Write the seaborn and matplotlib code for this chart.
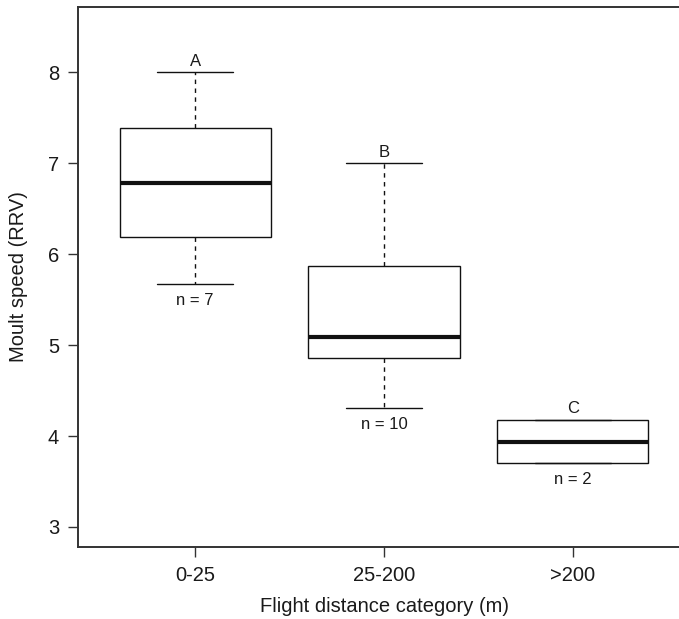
"""Moult speed by flight distance category (R-style boxplot)."""
import matplotlib

matplotlib.use("Agg")
import matplotlib.pyplot as plt  # noqa: E402
import numpy as np  # noqa: E402
import pandas as pd  # noqa: E402
import seaborn as sns  # noqa: E402

# Five-number summaries (whisker ends, hinges, median)
categories = ["0-25", "25-200", ">200"]
whisker_low = [5.67, 4.31, 3.70]
hinge_low = [6.19, 4.86, 3.70]
medians = [6.78, 5.09, 3.94]
hinge_high = [7.39, 5.87, 4.18]
whisker_high = [8.00, 7.00, 4.18]
n_obs = [7, 10, 2]
letters = ["A", "B", "C"]

# five values per group -> linear percentiles give back exactly these hinges
rows = []
for i, cat in enumerate(categories):
    for v in (whisker_low[i], hinge_low[i], medians[i], hinge_high[i],
              whisker_high[i]):
        rows.append({"category": cat, "value": v})
df = pd.DataFrame(rows)

sns.set_style("ticks")
plt.rcParams["font.family"] = ["Liberation Sans", "DejaVu Sans"]
plt.rcParams["text.color"] = "#1a1a1a"
plt.rcParams["axes.labelcolor"] = "#1a1a1a"
plt.rcParams["xtick.labelcolor"] = "#1a1a1a"
plt.rcParams["ytick.labelcolor"] = "#1a1a1a"

W, H = 679, 619
fig = plt.figure(figsize=(W / 100, H / 100), dpi=100)
# right part of the frame falls outside the picture, as in the original
ax = fig.add_axes([78 / W, 72 / H, 612 / W, 540 / H])

sns.boxplot(data=df, x="category", y="value", order=categories, ax=ax,
            width=0.8, color="white", linecolor="#111111", linewidth=1.0,
            whis=(0, 100), showfliers=False,
            medianprops={"linewidth": 3.0})

# dashed whiskers, solid caps
for ln in ax.lines:
    x = ln.get_xdata()
    if len(x) == 2 and np.isclose(x[0], x[1]):
        ln.set_linestyle((0, (3.2, 3.2)))
    elif ln.get_linewidth() < 2:
        ln.set_linestyle("-")

for i in range(len(categories)):
    ax.annotate(letters[i], (i, whisker_high[i]), xytext=(0, 4.8),
                textcoords="offset points", ha="center", va="baseline",
                fontsize=12)
    ax.annotate(f"n = {n_obs[i]}", (i, whisker_low[i]), xytext=(0, -15),
                textcoords="offset points", ha="center", va="baseline",
                fontsize=12)

ax.set_xlim(-0.62, 2.62)
ax.set_ylim(2.78, 8.72)
ax.set_yticks([3, 4, 5, 6, 7, 8])
ax.tick_params(axis="both", labelsize=14.5, length=7.5, width=1.0,
               color="#333333", pad=6)
for s in ax.spines.values():
    s.set_linewidth(1.4)
    s.set_color("#333333")

ax.set_xlabel("Flight distance category (m)", fontsize=14.5)
ax.set_ylabel("Moult speed (RRV)", fontsize=14.5)
ax.xaxis.set_label_coords(0.5, -0.092)
ax.yaxis.set_label_coords((28 - 78) / 612, 0.5)

fig.savefig("out.png", dpi=100)
plt.close(fig)
